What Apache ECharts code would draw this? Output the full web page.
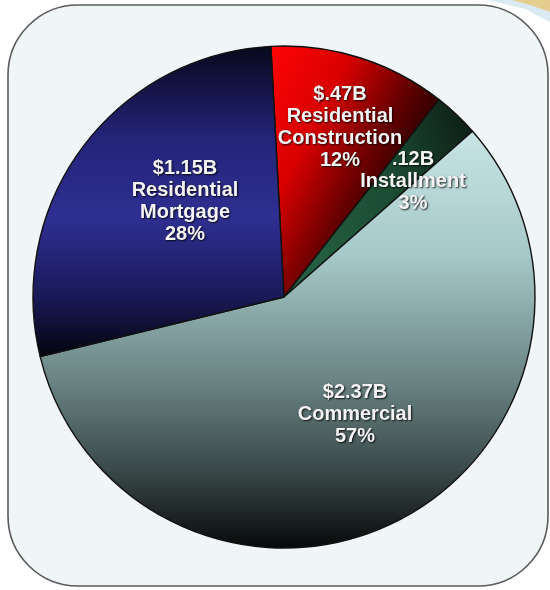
<!DOCTYPE html>
<html>
<head>
<meta charset="utf-8">
<script src="https://cdn.jsdelivr.net/npm/echarts@6/dist/echarts.min.js"></script>
<style>html,body{margin:0;padding:0;background:#fff;}#c{width:550px;height:590px;}</style>
</head>
<body>
<div id="c"></div>
<script>
// Data, clockwise from the top
var categories = ['Residential\nConstruction', 'Installment', 'Commercial', 'Residential\nMortgage'];
var amounts = [0.47, 0.12, 2.37, 1.15];           // $ billions
var amountLabels = ['$.47B', '.12B', '$2.37B', '$1.15B'];
var percentLabels = ['12%', '3%', '57%', '28%'];

// Styles (kept apart from the data)
var fills = [
  {type:'linear', x:0, y:0, x2:1, y2:0.35, colorStops:[
    {offset:0, color:'#ff0505'}, {offset:0.4, color:'#d80000'}, {offset:0.72, color:'#6a0000'}, {offset:1, color:'#1a0000'}]},
  {type:'linear', x:0, y:0.3, x2:1, y2:0, colorStops:[
    {offset:0, color:'#245e40'}, {offset:0.5, color:'#1b4a32'}, {offset:1, color:'#0c1a12'}]},
  {type:'linear', x:0, y:0, x2:0, y2:1, colorStops:[
    {offset:0, color:'#c8e4e4'}, {offset:0.3, color:'#a6c8c8'}, {offset:0.6, color:'#6a8383'},
    {offset:0.82, color:'#384646'}, {offset:1, color:'#070909'}]},
  {type:'linear', x:0, y:0, x2:0, y2:1, colorStops:[
    {offset:0, color:'#08081c'}, {offset:0.3, color:'#24247a'}, {offset:0.55, color:'#2f2f92'},
    {offset:0.8, color:'#1a1a5a'}, {offset:1, color:'#04040e'}]}
];
// label centres, in the same order as the categories
var labelPos = [[340, 127], [413, 181], [355, 414], [185, 201]];

var chart = echarts.init(document.getElementById('c'), null, {renderer:'canvas'});
chart.setOption({
  backgroundColor: '#ffffff',
  animation: false,
  graphic: [
    {type:'polygon', z:-2, shape:{points:[[488,0],[550,0],[550,22],[525,9]]}, style:{fill:'#d9eaf3'}},
    {type:'polygon', z:-2, shape:{points:[[512,0],[550,0],[550,12],[530,5]]}, style:{fill:'#e4cd8f'}},
    {type:'rect', z:-1, shape:{x:8, y:5, width:540, height:581, r:70},
     style:{fill:'#f0f6f7', stroke:'#5a5a5a', lineWidth:1.6}}
  ],
  series: [{
    type: 'pie',
    center: [284, 297],
    radius: [0, 251],
    startAngle: 93,
    clockwise: true,
    avoidLabelOverlap: false,
    labelLine: {show:false},
    itemStyle: {borderColor:'#111', borderWidth:1.4},
    label: {
      show: true,
      position: 'inside',
      color: '#f4f4f4',
      fontFamily: '"Liberation Sans", Arial, sans-serif',
      fontWeight: 'bold',
      fontSize: 20,
      lineHeight: 22,
      align: 'center',
      textShadowColor: 'rgba(0,0,0,0.85)',
      textShadowBlur: 2,
      textShadowOffsetX: 1,
      textShadowOffsetY: 1,
      formatter: function (p) {
        var i = p.dataIndex;
        return amountLabels[i] + '\n' + categories[i] + '\n' + percentLabels[i];
      }
    },
    labelLayout: function (p) {
      var q = labelPos[p.dataIndex];
      return {x: q[0], y: q[1], align: 'center', verticalAlign: 'middle'};
    },
    emphasis: {disabled: true},
    data: categories.map(function (c, i) {
      return {name: c, value: amounts[i], itemStyle: {color: fills[i]}};
    })
  }]
});
</script>
</body>
</html>
